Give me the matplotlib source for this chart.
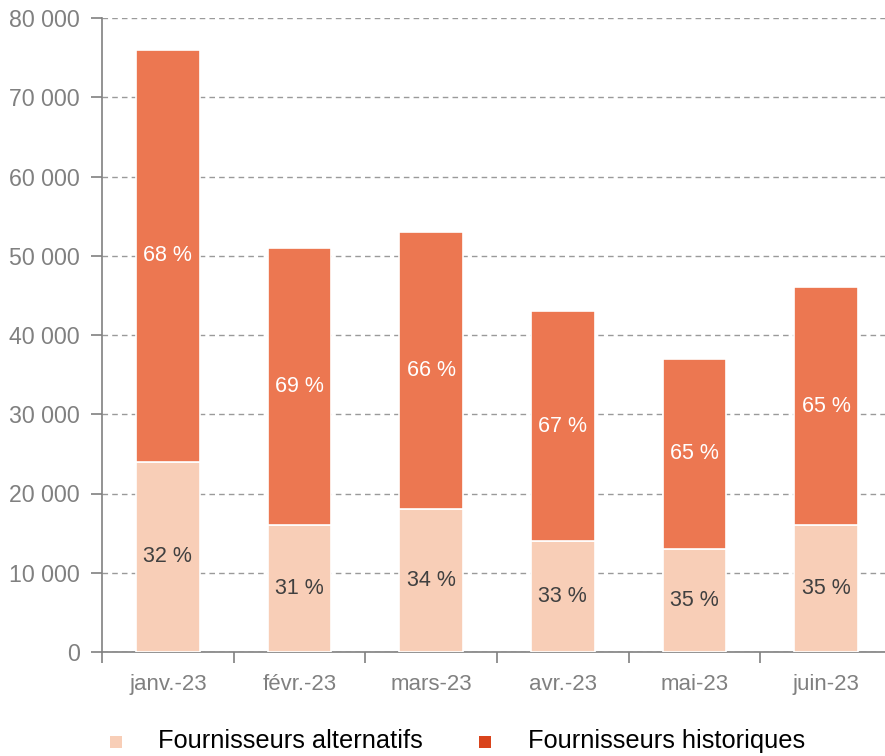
import matplotlib
matplotlib.use("Agg")
import matplotlib.pyplot as plt
from matplotlib.patches import Rectangle

months = ["janv.-23", "févr.-23", "mars-23", "avr.-23", "mai-23", "juin-23"]
alternatifs = [24000, 16000, 18000, 14000, 13000, 16000]
historiques = [52000, 35000, 35000, 29000, 24000, 30000]
pct_alt = [32, 31, 34, 33, 35, 35]
pct_hist = [68, 69, 66, 67, 65, 65]
yticks = [0, 10000, 20000, 30000, 40000, 50000, 60000, 70000, 80000]
series_names = ["Fournisseurs alternatifs", "Fournisseurs historiques"]

c_alt = "#F8CEB7"
c_hist = "#EC7751"
c_hist_leg = "#D9441C"
gray = "#808080"

plt.rcParams['font.family'] = ['Liberation Sans', 'DejaVu Sans']

W, H = 885, 756
fig = plt.figure(figsize=(W / 100, H / 100), dpi=100)
ax = fig.add_axes([102 / W, 104 / H, 1 - 102 / W, (652 - 18) / H])

x = list(range(len(months)))
w = 0.485
ax.bar(x, alternatifs, width=w, color=c_alt, edgecolor="white", linewidth=1.2, zorder=3)
ax.bar(x, historiques, bottom=alternatifs, width=w, color=c_hist, edgecolor="white", linewidth=1.2, zorder=3)

for i in x:
    ax.text(i, alternatifs[i] / 2, f"{pct_alt[i]} %", ha="center", va="center",
            color="#404040", fontsize=15.5, zorder=4)
    ax.text(i, alternatifs[i] + historiques[i] / 2, f"{pct_hist[i]} %", ha="center", va="center",
            color="white", fontsize=15.5, zorder=4)

ax.set_yticks(yticks)
ax.set_yticklabels([f"{v:,}".replace(",", " ") for v in yticks])
ax.yaxis.grid(True, linestyle=(0, (4, 3)), color="#9a9a9a", linewidth=1.0, zorder=0)
ax.set_axisbelow(True)

ax.set_xticks(x)
ax.set_xticklabels(months)
ax.set_xticks([i - 0.5 for i in range(len(months) + 1)], minor=True)
ax.tick_params(axis="x", which="major", length=0, pad=16, labelsize=16, labelcolor=gray)
ax.tick_params(axis="x", which="minor", length=8, color=gray, width=1.2)
ax.tick_params(axis="y", length=8, color=gray, width=1.2, labelsize=16.7, labelcolor=gray, pad=8)
ax.set_ylim(0, 80000)
ax.set_xlim(-0.5, 5.5 - 7 / 132)

for s in ["top", "right"]:
    ax.spines[s].set_visible(False)
for s in ["left", "bottom"]:
    ax.spines[s].set_color(gray)
    ax.spines[s].set_linewidth(1.2)

# legend (manual placement)
leg_items = [(110, 158, c_alt), (479, 528, c_hist_leg)]
for (mx, tx, col), name in zip(leg_items, series_names):
    fig.add_artist(Rectangle((mx / W, 1 - 748 / H), 12 / W, 12 / H,
                             transform=fig.transFigure, color=col, lw=0))
    fig.text(tx / W, 1 - 748 / H, name, ha="left", va="baseline",
             fontsize=18.3, color="black")

fig.savefig("out.png", dpi=100)
